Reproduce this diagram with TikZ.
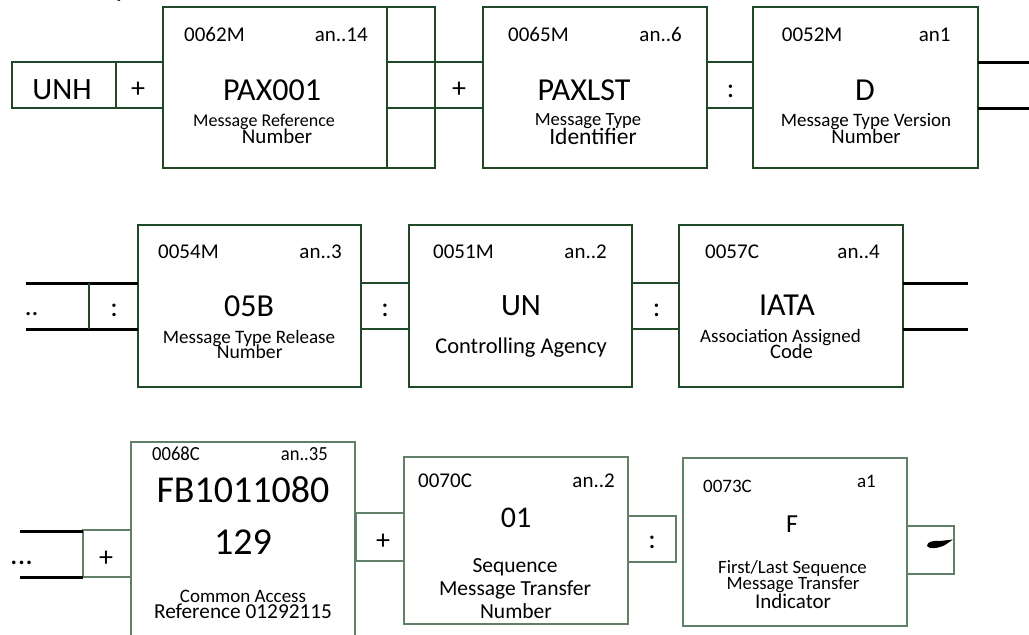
\documentclass[tikz,border=0pt]{standalone}
\usepackage{fontspec}
\setmainfont{Carlito}
\newfontfamily\condf[FakeStretch=0.93]{Carlito}
\newcommand\fsz[1]{\fontsize{#1}{#1}\selectfont}
\definecolor{dkg}{RGB}{31,72,40}
\definecolor{ltg}{RGB}{95,128,102}
\begin{document}
\begin{tikzpicture}[x=1pt,y=-1pt,
  gb/.style={draw=dkg,line width=2pt,rectangle,inner sep=0pt,outer sep=0pt},
  lb/.style={draw=ltg,line width=1.1pt,rectangle,inner sep=0pt,outer sep=0pt},
  bl/.style={line width=3pt,black},
  gl/.style={line width=2pt,dkg},
  t/.style={inner sep=0pt,anchor=base},
  tl/.style={inner sep=0pt,anchor=base west},
  tr/.style={inner sep=0pt,anchor=base east},
  sym/.style={inner sep=0pt,anchor=center,font=\fsz{28}}]
\useasboundingbox (0,0) rectangle (1029,635);
% ---------- row 1 ----------
\node[gb,minimum width=104pt,minimum height=46pt] (unh) at (64,85) {};
\node[gb,minimum width=47pt,minimum height=46pt] (p1) at (139.5,85) {};
\node[gb,minimum width=224pt,minimum height=161pt] (pax) at (275,87.5) {};
\node[gb,minimum width=48pt,minimum height=161pt] (gap) at (411,87.5) {};
\node[gb,minimum width=48pt,minimum height=46pt] (p2) at (459,85) {};
\draw[gl] (gap.west |- p2.north) -- (p2.north west) (gap.west |- p2.south) -- (p2.south west);
\node[gb,minimum width=224pt,minimum height=161pt] (lst) at (595,87.5) {};
\node[gb,minimum width=46pt,minimum height=46pt] (c1) at (730,85) {};
\node[gb,minimum width=225pt,minimum height=161pt] (d) at (865.5,87.5) {};
\coordinate (e1) at (1029,62); \coordinate (e2) at (1029,108);
\draw[bl] (d.east |- e1) -- (e1) (d.east |- e2) -- (e2);
\node[tl,font=\fsz{30}] (frag) at (115.5,-4) {p};
\node[t,font=\fsz{31}] (tunh) at (62,99.3) {UNH};
\node[sym] (s1) at (138,90) {+};
\node[tl,font=\fsz{21}] (h1a) at (184,41.5) {0062M};
\node[tr,font=\fsz{21}] (h1b) at (368,41.5) {an..14};
\node[t,font=\fsz{32}] (v1) at (272,100) {PAX001};
\node[t,font=\fsz{18}] (d1a) at (264,126) {Message Reference};
\node[t,font=\fsz{21}] (d1b) at (277,143.3) {Number};
\node[sym] (s2) at (459,90) {+};
\node[tl,font=\fsz{21}] (h2a) at (508,41.5) {0065M};
\node[tr,font=\fsz{21}] (h2b) at (682,41.5) {an..6};
\node[t,font=\fsz{32}] (v2) at (584,100) {PAXLST};
\node[t,font=\fsz{18.6}] (d2a) at (588,125.5) {Message Type};
\node[t,font=\fsz{23.5}] (d2b) at (593,144) {Identifier};
\node[sym] (s3) at (730.7,91) {:};
\node[tl,font=\fsz{21}] (h3a) at (781.7,41.5) {0052M};
\node[tr,font=\fsz{21}] (h3b) at (950.7,41.5) {an1};
\node[t,font=\fsz{32}] (v3) at (865,100) {D};
\node[t,font=\fsz{19}] (d3a) at (866,126) {Message Type Version};
\node[t,font=\fsz{20.7}] (d3b) at (866,143) {Number};
% ---------- row 2 ----------
\coordinate (l1) at (26,283); \coordinate (l2) at (26,329);
\node[gb,minimum width=223pt,minimum height=162pt] (b5) at (249.5,306) {};
\draw[bl] (l1) -- (l1 -| b5.west) (l2) -- (l2 -| b5.west);
\coordinate (dv) at (89,283);
\draw[gl] (dv) -- (dv |- l2);
\node[gb,minimum width=48pt,minimum height=46pt] (c2) at (385,306) {};
\node[gb,minimum width=223pt,minimum height=162pt] (un) at (520.5,306) {};
\node[gb,minimum width=47pt,minimum height=46pt] (c3) at (655.5,306) {};
\node[gb,minimum width=224pt,minimum height=162pt] (ia) at (791,306) {};
\coordinate (r1) at (968,283); \coordinate (r2) at (968,329);
\draw[bl] (ia.east |- r1) -- (r1) (ia.east |- r2) -- (r2);
\node[tl,font=\fsz{27}] (dd) at (24.6,315) {..};
\node[sym] (s4) at (114,310) {:};
\node[tl,font=\fsz{21}] (h4a) at (158,258.3) {0054M};
\node[tr,font=\fsz{21}] (h4b) at (342,258.3) {an..3};
\node[t,font=\fsz{32}] (v4) at (249,316) {05B};
\node[t,font=\fsz{19}] (d4a) at (249,343) {Message Type Release};
\node[t,font=\fsz{19.7}] (d4b) at (249.7,358) {Number};
\node[sym] (s5) at (385,310) {:};
\node[tl,font=\fsz{21}] (h5a) at (433,258.3) {0051M};
\node[tr,font=\fsz{21}] (h5b) at (607,258.3) {an..2};
\node[t,font=\fsz{31}] (v5) at (521,315) {UN};
\node[t,font=\fsz{22.5}] (d5a) at (521,353) {Controlling Agency};
\node[sym] (s6) at (656.7,310) {:};
\node[tl,font=\fsz{21}] (h6a) at (705,258.3) {0057C};
\node[tr,font=\fsz{21}] (h6b) at (880,258.3) {an..4};
\node[t,font=\fsz{32}] (v6) at (787,315) {IATA};
\node[t,font=\fsz{19}] (d6a) at (780.5,342) {Association Assigned};
\node[t,font=\fsz{20.6}] (d6b) at (791.5,358) {Code};
% ---------- row 3 ----------
\coordinate (m1) at (20,531); \coordinate (m2) at (20,577);
\node[lb,minimum width=48pt,minimum height=47pt] (p3) at (107,553.5) {};
\draw[bl] (m1) -- (m1 -| p3.west) (m2) -- (m2 -| p3.west);
\node[lb,minimum width=224pt,minimum height=210pt] (fb) at (243,547) {};
\node[lb,minimum width=48pt,minimum height=48pt] (p4) at (380,537) {};
\node[lb,minimum width=224pt,minimum height=167pt] (sq) at (516,540.5) {};
\node[lb,minimum width=48pt,minimum height=46pt] (c4) at (652,539) {};
\node[lb,minimum width=224pt,minimum height=168pt] (fl) at (795,542) {};
\node[lb,minimum width=47pt,minimum height=48pt] (en) at (930.5,550) {};
\node[tl,font=\fsz{30}] (ddd) at (10,564) {...};
\node[sym] (s7) at (106,559) {+};
\node[tl,font=\condf\fsz{20}] (h7a) at (152,460) {0068C};
\node[tr,font=\condf\fsz{20}] (h7b) at (328,460) {an..35};
\node[t,font=\fsz{38}] (v7a) at (243,502) {FB1011080};
\node[t,font=\fsz{38}] (v7b) at (243,554) {129};
\node[t,font=\fsz{19}] (d7a) at (243,602) {Common Access};
\node[t,font=\fsz{21.3}] (d7b) at (243,618) {Reference 01292115};
\node[sym] (s8) at (383,542) {+};
\node[tl,font=\fsz{21}] (h8a) at (418,487) {0070C};
\node[tr,font=\fsz{21}] (h8b) at (615,487) {an..2};
\node[t,font=\fsz{30}] (v8) at (516,527) {01};
\node[t,font=\fsz{21.5}] (d8a) at (515,572) {Sequence};
\node[t,font=\fsz{21.5}] (d8b) at (515,595) {Message Transfer};
\node[t,font=\fsz{21.5}] (d8c) at (516,618) {Number};
\node[sym] (s9) at (652,542) {:};
\node[tl,font=\fsz{19}] (h9a) at (703,492) {0073C};
\node[tr,font=\fsz{19}] (h9b) at (876,487) {a1};
\node[t,font=\fsz{26}] (v9) at (792,532) {F};
\node[t,font=\fsz{18.8}] (d9a) at (792.5,573) {First/Last Sequence};
\node[t,font=\fsz{18.8}] (d9b) at (793,589) {Message Transfer};
\node[t,font=\fsz{21}] (d9c) at (793,608) {Indicator};
\fill[black] (927,546) .. controls (927,541.5) and (933,540.5) .. (940,541) -- (953,539.5) -- (945,545) .. controls (938,548.5) and (929,549.5) .. cycle;
\end{tikzpicture}
\end{document}
